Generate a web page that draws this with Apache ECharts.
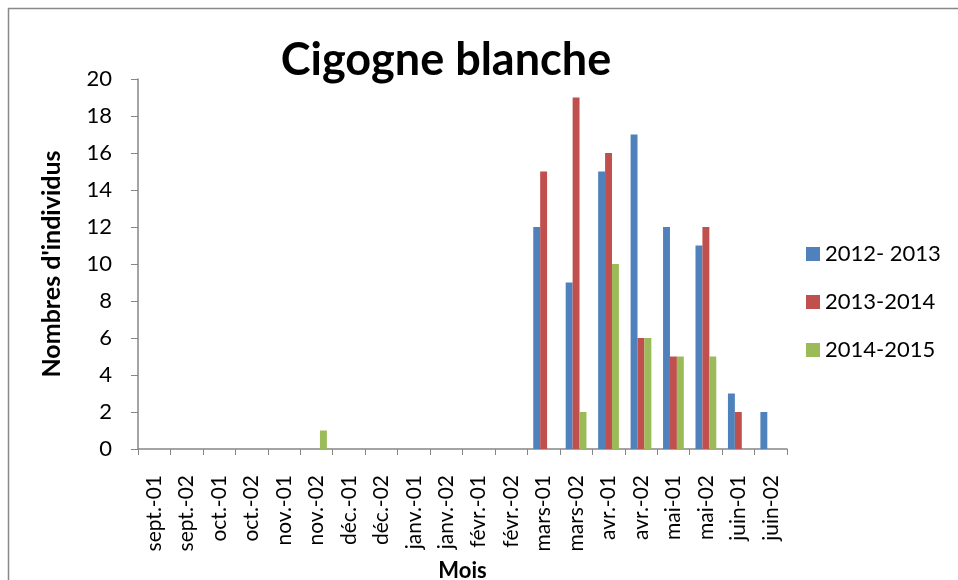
<!DOCTYPE html>
<html>
<head>
<meta charset="utf-8">
<script src="https://cdn.jsdelivr.net/npm/echarts@6/dist/echarts.min.js"></script>
<style>
  html, body { margin: 0; padding: 0; background: #fff; }
  #main { width: 958px; height: 580px; }
</style>
</head>
<body>
<div id="main"></div>
<script>
const months = ['sept.-01', 'sept.-02', 'oct.-01', 'oct.-02', 'nov.-01', 'nov.-02',
  'déc.-01', 'déc.-02', 'janv.-01', 'janv.-02', 'févr.-01', 'févr.-02',
  'mars-01', 'mars-02', 'avr.-01', 'avr.-02', 'mai-01', 'mai-02', 'juin-01', 'juin-02']
const s2012 = [0, 0, 0, 0, 0, 0, 0, 0, 0, 0, 0, 0, 12, 9, 15, 17, 12, 11, 3, 2]
const s2013 = [0, 0, 0, 0, 0, 0, 0, 0, 0, 0, 0, 0, 15, 19, 16, 6, 5, 12, 2, 0]
const s2014 = [0, 0, 0, 0, 0, 1, 0, 0, 0, 0, 0, 0, 0, 2, 10, 6, 5, 5, 0, 0]
const seriesNames = ['2012- 2013', '2013-2014', '2014-2015']
const colors = ['#4F81BD', '#C0504D', '#9BBB59']
const font = 'Lato, "Open Sans", sans-serif'

const chart = echarts.init(document.getElementById('main'))
const mkSeries = (name, data) => ({
  name: name,
  type: 'bar',
  data: data,
  barGap: '0%',
  barCategoryGap: '36%'
})
chart.setOption({
  animation: false,
  color: colors,
  textStyle: { fontFamily: font },
  graphic: [{
    type: 'rect',
    shape: { x: 8.5, y: 8.5, width: 970, height: 600 },
    style: { fill: 'none', stroke: '#888', lineWidth: 1.5 },
    silent: true
  }],
  title: {
    text: 'Cigogne blanche',
    left: 441,
    top: 33,
    textAlign: 'center',
    textStyle: { fontFamily: font, fontSize: 45, fontWeight: 'bold', color: '#000' }
  },
  legend: {
    orient: 'vertical',
    left: 801,
    top: 238,
    itemWidth: 14,
    itemHeight: 14,
    itemGap: 26,
    icon: 'rect',
    textStyle: { fontFamily: font, fontSize: 22, color: '#000' },
    data: seriesNames
  },
  grid: { left: 138, right: 171, top: 79, bottom: 131, outerBoundsMode: 'none' },
  xAxis: {
    type: 'category',
    data: months,
    name: 'Mois',
    nameLocation: 'middle',
    nameGap: 105,
    nameTextStyle: { fontFamily: font, fontSize: 22, fontWeight: 'bold', color: '#000' },
    axisLine: { lineStyle: { color: '#868686', width: 1.5 } },
    axisTick: { show: true, length: 6, lineStyle: { color: '#868686' } },
    axisLabel: { rotate: 90, fontSize: 21, color: '#000', margin: 26, fontFamily: font }
  },
  yAxis: {
    type: 'value',
    min: 0,
    max: 20,
    interval: 2,
    name: "Nombres d'individus",
    nameLocation: 'middle',
    nameGap: 74,
    nameTextStyle: { fontFamily: font, fontSize: 25, fontWeight: 'bold', color: '#000' },
    splitLine: { show: false },
    axisLine: { show: true, lineStyle: { color: '#868686', width: 1.5 } },
    axisTick: { show: true, length: 7, lineStyle: { color: '#868686' } },
    axisLabel: { fontSize: 22, color: '#000', margin: 26, fontFamily: font }
  },
  series: [
    mkSeries(seriesNames[0], s2012),
    mkSeries(seriesNames[1], s2013),
    mkSeries(seriesNames[2], s2014)
  ]
})
</script>
</body>
</html>
